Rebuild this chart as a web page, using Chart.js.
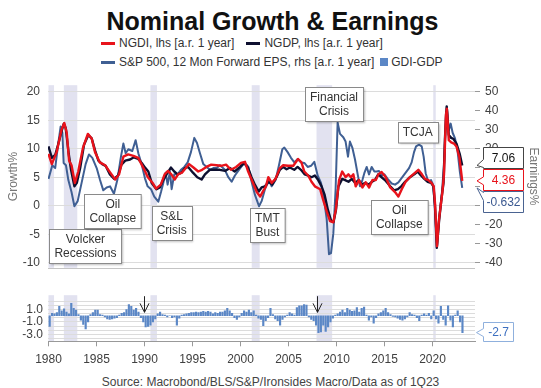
<!DOCTYPE html>
<html>
<head>
<meta charset="utf-8">
<script src="https://cdn.jsdelivr.net/npm/chart.js@4.4.0/dist/chart.umd.min.js"></script>
<style>
  html, body { margin: 0; padding: 0; background: #fff; }
  body { width: 541px; height: 388px; position: relative; overflow: hidden; font-family: "Liberation Sans", Arial, sans-serif; }
  #title { position: absolute; left: 2px; top: 6px; width: 541px; text-align: center; font-size: 25px; line-height: 30px; font-weight: bold; color: #111; }
  .legrow { position: absolute; left: 101px; font-size: 12px; line-height: 14px; color: #333; white-space: nowrap; display: flex; align-items: center; }
  .mk { display: inline-block; width: 14px; height: 3px; margin-right: 4px; }
  .sq { display: inline-block; width: 8px; height: 8px; margin-right: 3px; background: #5b87c6; }
  .gap { display: inline-block; width: 12px; }
  .gap2 { display: inline-block; width: 6px; }
  #topChart { position: absolute; left: 0; top: 70px; }
  #lowChart { position: absolute; left: 0; top: 283px; }
  #source { position: absolute; left: 0; width: 541px; top: 375px; text-align: center; font-size: 12px; line-height: 14px; color: #444; }
</style>
</head>
<body>
<div id="title">Nominal Growth &amp; Earnings</div>
<div class="legrow" style="top:36px"><span class="mk" style="background:#e8131b"></span>NGDI, lhs [a.r. 1 year]<span class="gap"></span><span class="mk" style="background:#0e1030"></span>NGDP, lhs [a.r. 1 year]</div>
<div class="legrow" style="top:55px"><span class="mk" style="background:#3f5f93"></span>S&amp;P 500, 12 Mon Forward EPS, rhs [a.r. 1 year]<span class="gap2"></span><span class="sq"></span>GDI-GDP</div>
<canvas id="topChart" width="541" height="213"></canvas>
<canvas id="lowChart" width="541" height="89"></canvas>
<div id="source">Source: Macrobond/BLS/S&amp;P/Ironsides Macro/Data as of 1Q23</div>
<script>
// nominal GDI, % y/y, lhs  [year, value]
const ngdi = [[1980.0,9.1],[1980.35,7.3],[1980.85,9.4],[1981.35,13.3],[1981.65,14.5],[1981.9,12.8],[1982.15,7.9],[1982.4,7.1],[1982.75,4.0],[1983.1,6.0],[1983.6,10.2],[1984.1,12.6],[1984.5,11.8],[1984.85,9.4],[1985.35,7.6],[1985.9,7.1],[1986.4,5.9],[1986.95,4.6],[1987.35,5.5],[1987.8,8.6],[1988.3,9.0],[1988.85,8.75],[1989.35,8.4],[1989.9,6.6],[1990.35,5.0],[1990.85,4.0],[1991.2,3.0],[1991.7,3.7],[1992.1,5.5],[1992.45,6.1],[1992.8,5.5],[1993.15,4.6],[1993.5,5.5],[1993.9,5.8],[1994.35,6.7],[1994.65,7.3],[1995.1,6.7],[1995.6,6.0],[1996.0,6.3],[1996.45,6.8],[1996.95,7.2],[1997.5,7.1],[1998.0,7.0],[1998.5,7.2],[1999.0,6.3],[1999.55,6.8],[2000.05,7.5],[2000.47,7.7],[2000.8,6.0],[2001.25,4.2],[2001.7,2.4],[2002.05,1.6],[2002.4,2.7],[2002.65,3.4],[2002.9,5.0],[2003.25,4.0],[2003.65,4.7],[2004.1,6.6],[2004.45,7.1],[2004.95,7.0],[2005.5,7.0],[2006.0,8.2],[2006.35,7.6],[2006.65,6.0],[2007.05,5.3],[2007.4,4.2],[2007.75,3.4],[2008.3,2.9],[2008.6,1.1],[2008.98,-1.0],[2009.33,-2.7],[2009.67,-2.9],[2009.93,-0.7],[2010.27,4.5],[2010.6,6.0],[2010.95,5.0],[2011.24,5.5],[2011.5,5.0],[2011.76,5.5],[2012.0,3.4],[2012.35,4.5],[2012.7,3.2],[2013.05,4.1],[2013.4,3.2],[2013.75,4.5],[2014.1,4.5],[2014.36,5.5],[2014.7,5.9],[2015.13,5.0],[2015.6,3.2],[2016.1,2.4],[2016.45,1.6],[2016.8,2.9],[2017.2,4.2],[2017.65,5.0],[2018.2,5.8],[2018.53,6.3],[2018.9,5.5],[2019.22,4.7],[2019.57,4.5],[2019.9,4.0],[2020.13,3.4],[2020.27,0.3],[2020.47,-7.1],[2020.68,-2.4],[2021.03,2.4],[2021.2,5.5],[2021.4,15.9],[2021.5,17.0],[2021.7,11.5],[2021.95,11.1],[2022.24,10.9],[2022.5,10.4],[2022.8,8.5],[2023.1,4.36]];

// nominal GDP, % y/y, lhs
const ngdp = [[1980.0,10.4],[1980.35,8.4],[1980.7,8.9],[1981.0,10.7],[1981.4,13.3],[1981.6,14.4],[1981.8,13.6],[1982.1,9.2],[1982.35,6.3],[1982.7,3.4],[1982.95,4.0],[1983.3,6.6],[1983.7,10.7],[1984.15,12.4],[1984.5,11.8],[1984.85,9.7],[1985.2,7.9],[1985.6,7.3],[1985.95,7.0],[1986.4,5.5],[1986.85,4.7],[1987.25,5.3],[1987.6,7.2],[1988.0,7.9],[1988.5,8.1],[1988.9,8.5],[1989.35,8.2],[1989.8,7.3],[1990.1,6.6],[1990.4,6.0],[1990.75,4.0],[1991.25,2.9],[1991.6,3.2],[1991.95,4.5],[1992.3,5.5],[1992.75,6.7],[1993.1,6.0],[1993.45,5.5],[1993.85,5.8],[1994.2,6.6],[1994.55,6.8],[1995.05,5.8],[1995.5,5.0],[1995.95,4.6],[1996.3,5.5],[1996.8,6.3],[1997.35,6.3],[1997.85,6.3],[1998.4,6.1],[1998.9,6.6],[1999.4,6.0],[1999.95,6.8],[2000.4,7.5],[2000.8,6.6],[2001.15,5.0],[2001.5,3.7],[2001.9,2.5],[2002.2,3.2],[2002.55,3.4],[2002.95,4.2],[2003.3,3.7],[2003.75,5.0],[2004.1,6.3],[2004.45,6.8],[2004.8,6.4],[2005.15,6.7],[2005.6,6.3],[2005.95,6.8],[2006.3,6.3],[2006.7,5.5],[2007.05,5.3],[2007.4,5.0],[2007.75,5.3],[2008.1,4.5],[2008.45,3.4],[2008.75,2.0],[2009.1,-0.7],[2009.45,-2.7],[2009.7,-2.8],[2009.95,-0.7],[2010.2,3.4],[2010.6,4.7],[2010.9,4.5],[2011.25,4.2],[2011.6,4.7],[2011.95,4.0],[2012.3,4.5],[2012.65,3.7],[2013.0,4.0],[2013.35,3.7],[2013.7,4.2],[2014.0,4.5],[2014.35,5.5],[2014.7,5.0],[2015.05,4.5],[2015.6,3.4],[2016.0,2.7],[2016.4,2.9],[2016.75,3.4],[2017.15,4.2],[2017.65,5.0],[2018.1,5.5],[2018.45,6.0],[2018.8,5.3],[2019.15,4.7],[2019.5,4.2],[2019.85,4.0],[2020.1,3.4],[2020.25,0.3],[2020.45,-7.4],[2020.7,-2.4],[2020.95,1.4],[2021.15,4.0],[2021.3,11.8],[2021.48,17.4],[2021.7,12.4],[2021.95,11.9],[2022.2,11.7],[2022.5,10.9],[2022.85,9.0],[2023.1,7.06]];

// S&P 500 12m fwd EPS, % y/y, rhs
const epsRhs = [[1980.0,4.1],[1980.4,11.3],[1980.7,9.8],[1981.0,22.1],[1981.27,31.7],[1981.45,28.4],[1981.58,12.5],[1981.82,11.3],[1982.07,3.5],[1982.4,-2.8],[1982.7,-10.3],[1983.04,-7.6],[1983.45,2.0],[1983.87,11.9],[1984.22,17.0],[1984.57,15.2],[1985.02,9.8],[1985.37,3.5],[1985.71,-1.9],[1986.06,-0.4],[1986.41,0.2],[1986.82,-3.7],[1987.17,3.5],[1987.55,15.8],[1987.8,22.7],[1988.04,17.6],[1988.32,19.7],[1988.73,18.8],[1989.08,24.5],[1989.36,17.6],[1989.7,11.9],[1990.05,4.4],[1990.33,0.2],[1990.68,-1.3],[1991.02,-5.2],[1991.44,-7.9],[1991.72,-2.8],[1991.96,2.0],[1992.2,7.4],[1992.41,1.1],[1992.65,8.0],[1992.83,-1.3],[1993.1,6.5],[1993.45,6.5],[1993.8,8.9],[1994.15,10.4],[1994.5,12.8],[1994.84,18.2],[1995.19,25.7],[1995.47,23.0],[1995.78,17.6],[1996.13,11.9],[1996.47,10.4],[1996.82,8.9],[1997.17,9.8],[1997.52,9.8],[1997.86,11.3],[1998.38,8.9],[1998.73,5.0],[1999.08,2.6],[1999.42,5.9],[1999.84,8.9],[2000.29,11.9],[2000.63,11.6],[2000.82,10.4],[2001.16,2.6],[2001.51,-4.3],[2001.93,-10.3],[2002.2,-7.6],[2002.55,-1.3],[2002.97,3.5],[2003.25,0.2],[2003.66,3.5],[2004.01,11.3],[2004.36,19.7],[2004.57,20.6],[2004.91,18.2],[2005.26,15.2],[2005.61,12.8],[2005.96,14.6],[2006.3,12.8],[2006.65,12.5],[2007.0,10.4],[2007.35,11.0],[2007.69,13.1],[2008.04,5.9],[2008.39,2.0],[2008.73,-7.6],[2008.98,-16.9],[2009.22,-35.5],[2009.43,-34.9],[2009.67,-24.7],[2009.91,-1.3],[2010.12,33.8],[2010.37,27.8],[2010.71,26.0],[2010.95,23.75],[2011.2,15.8],[2011.4,23.75],[2011.65,20.6],[2011.93,14.3],[2012.21,6.5],[2012.45,0.2],[2012.7,3.5],[2012.9,7.1],[2013.15,10.4],[2013.39,6.5],[2013.67,10.4],[2013.95,8.0],[2014.19,8.0],[2014.43,8.3],[2014.71,5.9],[2014.99,6.5],[2015.33,4.1],[2015.75,1.7],[2016.1,1.1],[2016.45,2.3],[2016.86,5.0],[2017.21,7.4],[2017.56,9.8],[2017.83,12.8],[2018.08,18.2],[2018.29,21.2],[2018.6,22.1],[2018.88,21.2],[2019.08,15.8],[2019.29,7.1],[2019.57,2.6],[2019.85,3.5],[2020.06,1.1],[2020.27,-12.1],[2020.47,-31.6],[2020.7,-16.6],[2020.96,-4.6],[2021.24,14.3],[2021.41,39.5],[2021.5,41.9],[2021.7,29.6],[2021.9,33.2],[2022.1,28.4],[2022.35,25.4],[2022.6,19.4],[2022.85,8.0],[2023.1,-0.632]];

// GDI minus GDP growth, quarterly from 1980Q1
const gdiGdpStart = 1980;
const gdiGdp = [
  -1.7, 0.4, 0.3, 0.5,   1.5, 0.8, 1.1, 0.6,   0.3, 2.0, 1.2, 0.9,   0.2, -0.7, -1.4, -2.1,
  -1.0, 0.2, 0.5, 0.9,   0.9, 0.2, 0.1, -0.2,  -0.5, -0.6, -0.5, -0.4, -0.3, 0.1, 0.4, 0.5,
  1.0, 1.8, 1.5, 0.9,    1.2, 0.6, -0.3, -1.0, -1.8, -1.7, -1.5, -1.0, -0.5, 0.3, 0.6, 0.2,
  0.1, -0.2, 0.0, -0.3,  -0.2, -1.5, -0.4, 0.1, 0.2, 0.3, 0.4, 0.5,   0.5, 0.6, 0.5, 0.6,
  0.7, 0.6, 0.7, 0.6,    0.3, 0.5, 0.4, 0.6,   0.6, 0.8, 1.2, 0.8,   0.4, -0.3, -0.6, -0.2,
  0.4, 0.8, 0.6, 0.9,    0.5, 0.8, 0.1, -0.4,  -0.6, -1.6, -0.8, -0.3, 1.2, 0.2, -0.5, -0.8,
  -1.5, -0.6, -0.2, 0.1, 0.5, 0.3, 0.1, 1.3,   1.6, 1.6, 1.8, 1.7,   -0.2, -0.6, -0.8, -1.5,
  -2.7, -2.6, -1.5, -2.5, -1.8, -1.0, -0.4, 0.1, 0.3, 0.6, 0.9, 0.5,  1.2, 0.9, 0.7, 0.8,
  1.3, 0.6, 1.2, 1.4,    0.1, -0.7, -0.2, -1.2, -0.3, 0.3, 0.5, 0.8,  1.2, 0.5, 0.2, -0.1,
  -0.2, -0.4, -0.6, -0.7, -0.5, -0.2, 0.5, 0.2, 0.1, -0.3, -0.8, 0.1, 0.3, 0.1, 0.4, -0.5,
  0.8, -0.5, -1.2, 1.5,  -0.6, -1.5, 1.6, -0.7, -1.8, 0.1, 0.8, -1.0,
  -2.7
];

// NBER recessions as drawn [start, end]
const recessions = [[1980.0, 1980.58], [1981.6, 1983.0], [1990.62, 1991.3], [2001.17, 2002.0], [2007.92, 2009.55], [2020.08, 2020.33]];

// lower panel grid and labels
const lowGrid = [2.333, 1.667, 1.0, 0.333, -0.333, -1.0, -1.667, -2.333, -3.0, -3.667];
const lowLabelValues = [1.0, -1.0, -3.0];
const lowLabelText = ['1.0', '-1.0', '-3.0'];

// text boxes on the top panel
const annoText = [['Volcker', 'Recessions'], ['Oil', 'Collapse'], ['S&L', 'Crisis'], ['TMT', 'Bust'], ['Financial', 'Crisis'], ['TCJA'], ['Oil', 'Collapse']];
const annoYear = [1983.85, 1986.7, 1992.83, 2002.81, 2009.74, 2018.46, 2016.54];
const annoValue = [-7.0, -1.0, -3.03, -3.4, 17.85, 12.97, -1.96];

// arrows on the lower panel
const arrowYears = [1989.97, 2007.97];

const FONT = '"Liberation Sans", Arial, sans-serif';
Chart.defaults.font.family = FONT;
Chart.defaults.font.size = 12;
Chart.defaults.color = '#404040';

const X_MIN = 1979.95, X_MAX = 2024.43;

function pts(arr) {
  return arr.map(p => ({ x: p[0], y: p[1] }));
}

const bands = {
  id: 'bands',
  beforeDraw(chart) {
    const { ctx, chartArea: a, scales } = chart;
    const x = scales.x;
    ctx.save();
    ctx.fillStyle = '#e2e2f0';
    recessions.forEach(r => {
      const x0 = x.getPixelForValue(r[0]), x1 = x.getPixelForValue(r[1]);
      ctx.fillRect(x0, a.top, Math.max(x1 - x0, 2.5), a.bottom - a.top);
    });
    ctx.restore();
  }
};

function textBox(ctx, lines, cx, cy) {
  ctx.font = '12px ' + FONT;
  const w = Math.max(...lines.map(t => ctx.measureText(t).width)) + 10;
  const lh = 13.5;
  const h = lines.length * lh + 7;
  const x0 = Math.round(cx - w / 2) + 0.5, y0 = Math.round(cy - h / 2) + 0.5;
  ctx.save();
  ctx.shadowColor = 'rgba(0,0,0,0.25)';
  ctx.shadowOffsetX = 1;
  ctx.shadowOffsetY = 1;
  ctx.shadowBlur = 2;
  ctx.fillStyle = '#fff';
  ctx.fillRect(x0, y0, w, h);
  ctx.restore();
  ctx.strokeStyle = '#8a8a8a';
  ctx.lineWidth = 1;
  ctx.strokeRect(x0, y0, w, h);
  ctx.fillStyle = '#333';
  ctx.textAlign = 'center';
  ctx.textBaseline = 'middle';
  lines.forEach((t, i) => ctx.fillText(t, cx, y0 + 3.5 + lh * (i + 0.5)));
}

function callout(ctx, text, color, border, bx, by, bw, bh, tipX, tipY) {
  const py = Math.min(Math.max(tipY, by + 5), by + bh - 5);
  ctx.save();
  ctx.beginPath();
  ctx.moveTo(bx, by);
  ctx.lineTo(bx + bw, by);
  ctx.lineTo(bx + bw, by + bh);
  ctx.lineTo(bx, by + bh);
  ctx.lineTo(bx, py + 4);
  ctx.lineTo(tipX, tipY);
  ctx.lineTo(bx, py - 4);
  ctx.closePath();
  ctx.fillStyle = '#fff';
  ctx.fill();
  ctx.strokeStyle = border;
  ctx.lineWidth = 1;
  ctx.stroke();
  ctx.font = '12px ' + FONT;
  ctx.fillStyle = color;
  ctx.textAlign = 'center';
  ctx.textBaseline = 'middle';
  ctx.fillText(text, bx + bw / 2, by + bh / 2 + 0.5);
  ctx.restore();
}

const topOverlay = {
  id: 'topOverlay',
  afterDraw(chart) {
    const { ctx, chartArea: a, scales } = chart;
    const x = scales.x, yl = scales.y, yr = scales.y2;
    ctx.save();
    ctx.strokeStyle = '#c4c4c4';
    ctx.lineWidth = 1;
    ctx.beginPath();
    ctx.moveTo(a.left, Math.round(a.bottom) + 0.5);
    ctx.lineTo(a.right, Math.round(a.bottom) + 0.5);
    ctx.stroke();
    annoText.forEach((lines, i) => {
      textBox(ctx, lines, x.getPixelForValue(annoYear[i]), yl.getPixelForValue(annoValue[i]));
    });
    const lastP = ngdp[ngdp.length - 1][1];
    const lastI = ngdi[ngdi.length - 1][1];
    const lastE = epsRhs[epsRhs.length - 1][1];
    const bx = a.right + 8.5, bw = 40;
    const tipX = a.right + 2;
    callout(ctx, String(lastP), '#111', '#444', bx, 147.5 - 70, bw, 21, tipX, yl.getPixelForValue(lastP));
    callout(ctx, String(lastE), '#3a5890', '#4a6391', bx, 191.5 - 70, bw, 21, tipX, yr.getPixelForValue(lastE));
    callout(ctx, String(lastI), '#e8131b', '#e8131b', bx, 169.5 - 70, bw, 21, tipX, yl.getPixelForValue(lastI));
    ctx.restore();
  }
};

const lowOverlay = {
  id: 'lowOverlay',
  afterDraw(chart) {
    const { ctx, chartArea: a, scales } = chart;
    const x = scales.x, y = scales.y;
    ctx.save();
    ctx.strokeStyle = '#222';
    ctx.lineWidth = 1;
    arrowYears.forEach(yr => {
      const px = Math.round(x.getPixelForValue(yr)) + 0.5;
      const top = a.top + 1;
      const tip = y.getPixelForValue(0.55);
      ctx.beginPath();
      ctx.moveTo(px, top);
      ctx.lineTo(px, tip);
      ctx.moveTo(px - 4.5, tip - 9);
      ctx.lineTo(px, tip);
      ctx.lineTo(px + 4.5, tip - 9);
      ctx.stroke();
    });
    const last = gdiGdp[gdiGdp.length - 1];
    callout(ctx, String(last), '#3c6fc0', '#8fb0dd', a.right + 8.5, 322.5 - 283, 30, 19, a.right + 1.5, y.getPixelForValue(last));
    ctx.restore();
  }
};

new Chart(document.getElementById('topChart'), {
  type: 'line',
  data: {
    datasets: [
      { label: 'NGDI, lhs [a.r. 1 year]', data: pts(ngdi), borderColor: '#e8131b', borderWidth: 2.4, yAxisID: 'y', order: 0 },
      { label: 'NGDP, lhs [a.r. 1 year]', data: pts(ngdp), borderColor: '#0e1030', borderWidth: 2.4, yAxisID: 'y', order: 1 },
      { label: 'S&P 500, 12 Mon Forward EPS, rhs [a.r. 1 year]', data: pts(epsRhs), borderColor: '#3f5f93', borderWidth: 2, yAxisID: 'y2', order: 2 }
    ]
  },
  options: {
    responsive: false,
    animation: false,
    layout: { padding: { top: 6, bottom: 2 } },
    elements: { point: { radius: 0 }, line: { tension: 0, borderJoinStyle: 'round' } },
    plugins: { legend: { display: false }, tooltip: { enabled: false } },
    scales: {
      x: { type: 'linear', min: X_MIN, max: X_MAX, display: false, offset: false },
      y: {
        position: 'left', min: -10.89, max: 21.14,
        afterFit: s => { s.width = 48; },
        ticks: { stepSize: 5, padding: 8, includeBounds: false },
        grid: { color: '#dcdcdc', drawTicks: false },
        border: { display: false },
        title: { display: true, text: 'Growth%', color: '#777', padding: { top: 6, bottom: 0 } }
      },
      y2: {
        position: 'right', min: -42.67, max: 53.42,
        afterFit: s => { s.width = 66; },
        ticks: { stepSize: 10, padding: 5, includeBounds: false },
        grid: { drawOnChartArea: false, drawTicks: true, tickLength: 5, color: '#999' },
        border: { display: false },
        title: { display: true, text: 'Earnings%', color: '#777', padding: { top: 0, bottom: 0 } }
      }
    }
  },
  plugins: [bands, topOverlay]
});

new Chart(document.getElementById('lowChart'), {
  type: 'bar',
  data: {
    datasets: [{
      label: 'GDI-GDP',
      data: gdiGdp.map((v, i) => ({ x: gdiGdpStart + i * 0.25 + 0.125, y: v })),
      backgroundColor: '#5b87c6',
      barThickness: 1.5
    }]
  },
  options: {
    responsive: false,
    animation: false,
    layout: { padding: { top: 2.7, right: 66 } },
    plugins: { legend: { display: false }, tooltip: { enabled: false } },
    scales: {
      x: {
        type: 'linear', min: X_MIN, max: X_MAX, offset: false,
        afterFit: s => { s.height = 30.7; },
        ticks: { stepSize: 5, includeBounds: false, padding: 6, maxRotation: 0, autoSkip: false, callback: v => String(v) },
        grid: { drawOnChartArea: false, drawTicks: true, tickLength: 5, color: '#999', offset: false },
        border: { color: '#999' }
      },
      y: {
        min: -4.1, max: 3.3,
        afterFit: s => { s.width = 48; },
        afterBuildTicks: s => { s.ticks = lowGrid.map(v => ({ value: v })); },
        ticks: {
          padding: 5,
          autoSkip: false,
          callback: v => {
            const i = lowLabelValues.findIndex(l => Math.abs(l - v) < 1e-6);
            return i >= 0 ? lowLabelText[i] : '';
          }
        },
        grid: { color: '#dcdcdc', drawTicks: false },
        border: { display: false }
      }
    }
  },
  plugins: [bands, lowOverlay]
});
</script>
</body>
</html>
